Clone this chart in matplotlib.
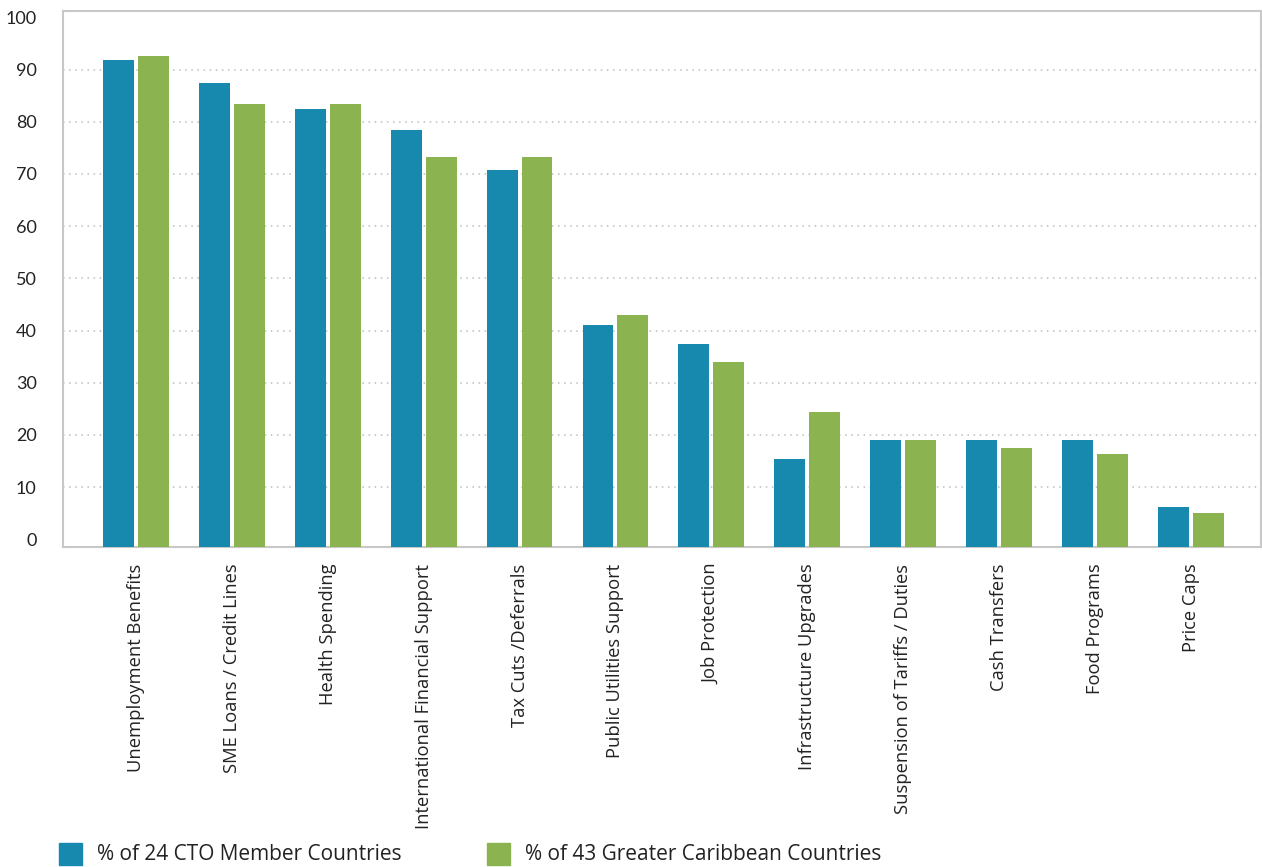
import matplotlib.pyplot as plt
import matplotlib.patches as mpatches
import numpy as np

# policy measures and share of countries adopting each (%)
measures = ["Unemployment Beneﬁts", "SME Loans / Credit Lines", "Health Spending",
            "International Financial Support", "Tax Cuts /Deferrals",
            "Public Utilities Support", "Job Protection", "Infrastructure Upgrades",
            "Suspension of Tariﬀs / Duties", "Cash Transfers", "Food Programs",
            "Price Caps"]
cto = [91.9, 87.4, 82.4, 78.5, 70.8, 41.1, 37.5, 15.4, 19.1, 19.1, 19.1, 6.2]
caribbean = [92.7, 83.5, 83.5, 73.3, 73.3, 43.0, 34.0, 24.4, 19.1, 17.5, 16.4, 5.0]
yticks = [0, 10, 20, 30, 40, 50, 60, 70, 80, 90, 100]
series_names = ["% of 24 CTO Member Countries", "% of 43 Greater Caribbean Countries"]

blue = "#1789ae"
green = "#8bb451"
y0 = -1.5  # bars start at the bottom edge of the plot box

fig = plt.figure(figsize=(12.62, 8.67), dpi=100)
ax = fig.add_axes([0.0499, 0.369, 0.9493, 0.6187])

x = np.arange(len(measures))
w = 0.323
off = 0.182
ax.bar(x - off, np.array(cto) - y0, w, bottom=y0, color=blue, zorder=3)
ax.bar(x + off, np.array(caribbean) - y0, w, bottom=y0, color=green, zorder=3)

ax.set_xlim(-0.76, 11.73)
ax.set_ylim(y0, 101.3)

# dotted guide lines between 0 and 100
ax.hlines(yticks[1:-1], -0.76, 11.73, colors="#bdbdbd", linestyles=(0, (1, 3)),
          linewidth=1.1, zorder=1)

ax.set_yticks(yticks)
ax.set_yticklabels([str(t) for t in yticks], fontfamily="Lato", fontsize=13,
                   color="#222222")
ax.set_xticks(x)
ax.set_xticklabels(measures, rotation=90, fontfamily="Open Sans", fontsize=13.2,
                   color="#222222", va="top", ha="center")
ax.tick_params(axis="y", length=0, pad=19)
ax.tick_params(axis="x", length=0, pad=12)

for s in ax.spines.values():
    s.set_color("#c8c8c8")
    s.set_linewidth(1.5)

# legend drawn by hand along the bottom edge
W, H = 1262, 867
for (sx, tx), col, name in zip([(59, 97), (487, 525)], [blue, green], series_names):
    fig.patches.append(mpatches.Rectangle((sx / W, (H - 865) / H), 23 / W, 22 / H,
                                          color=col, transform=fig.transFigure))
    fig.text(tx / W, (H - 855) / H, name, fontfamily="Open Sans", fontsize=15,
             color="#222222", va="center", ha="left")

fig.savefig("out.png", dpi=100)
